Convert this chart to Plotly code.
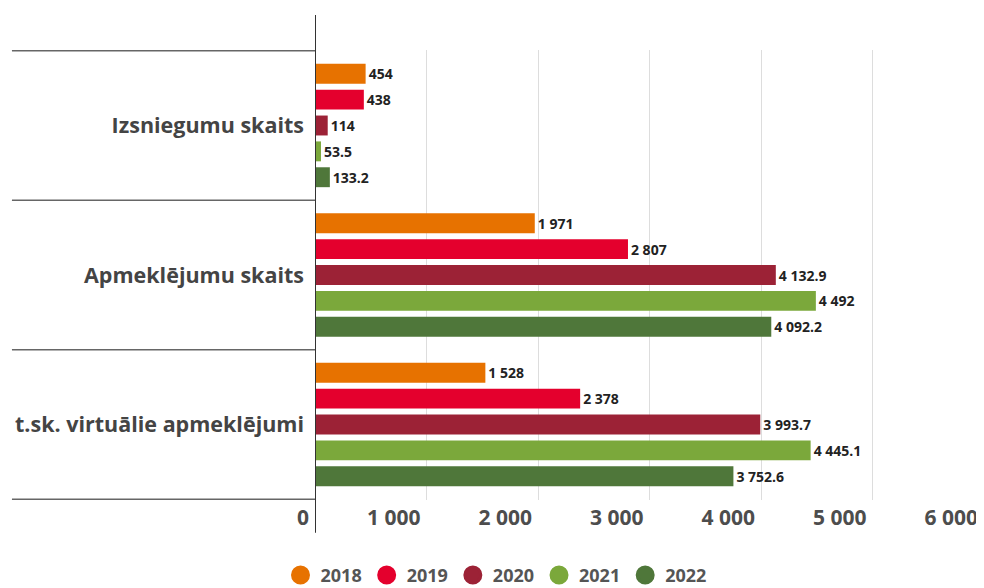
import plotly.graph_objects as go

categories = ["Izsniegumu skaits", "Apmeklējumu skaits", "t.sk. virtuālie apmeklējumi"]
years = ["2018", "2019", "2020", "2021", "2022"]
values = {
    "2018": [454, 1971, 1528],
    "2019": [438, 2807, 2378],
    "2020": [114, 4132.9, 3993.7],
    "2021": [53.5, 4492, 4445.1],
    "2022": [133.2, 4092.2, 3752.6],
}
colors = ["#E77200", "#E4002D", "#9C2236", "#7BA83B", "#4F773A"]
x_ticks = [0, 1000, 2000, 3000, 4000, 5000, 6000]

FONT = "Open Sans"
fig = go.Figure()
for yr, col in zip(years, colors):
    fig.add_trace(go.Bar(
        y=categories, x=values[yr], orientation="h", name=yr,
        marker=dict(color=col, line=dict(width=0)),
        texttemplate="%{x:,}", textposition="outside", cliponaxis=False,
        textfont=dict(family=FONT, size=14, color="#222222", weight="bold"),
        showlegend=False,
    ))
    fig.add_trace(go.Scatter(
        x=[None], y=[None], mode="markers", name=yr,
        marker=dict(symbol="circle", size=16, color=col, line=dict(color=col, width=3)),
        showlegend=True,
    ))

# category separators and the vertical axis line
for b in [-0.5, 0.5, 1.5, 2.5]:
    fig.add_shape(type="line", xref="paper", yref="y", x0=-0.453, x1=0, y0=b, y1=b,
                  line=dict(color="#666666", width=1.5))
fig.add_shape(type="line", xref="x", yref="paper", x0=0, x1=0, y0=-0.073, y1=1.078,
              line=dict(color="#333333", width=2))

fig.update_layout(
    width=976, height=580,
    margin=dict(l=307, r=0, t=42, b=88),
    paper_bgcolor="white", plot_bgcolor="white",
    separators=". ",
    barmode="group", bargap=0.135, bargroupgap=0.23,
    font=dict(family=FONT),
    xaxis=dict(range=[0, 6000], tickvals=x_ticks, tickformat=",", automargin=False,
               showgrid=True, gridcolor="#DDDDDD", gridwidth=1, zeroline=False,
               showline=False, ticks="", ticklabelposition="outside left",
               ticklabelshift=-6, ticklabelstandoff=3,
               tickfont=dict(family=FONT, size=21, color="#4D4D4D", weight="bold")),
    yaxis=dict(autorange="reversed", showgrid=False, zeroline=False, showline=False,
               ticks="", ticklabelstandoff=10, automargin=False,
               tickfont=dict(family=FONT, size=21.5, color="#444444", weight="bold")),
    legend=dict(orientation="h", xref="container", yref="container",
                x=0.5, xanchor="center", y=0.022, yanchor="middle",
                font=dict(family=FONT, size=18, color="#555555", weight="bold"),
                itemwidth=30, traceorder="normal"),
)
fig.write_html("out.html")
